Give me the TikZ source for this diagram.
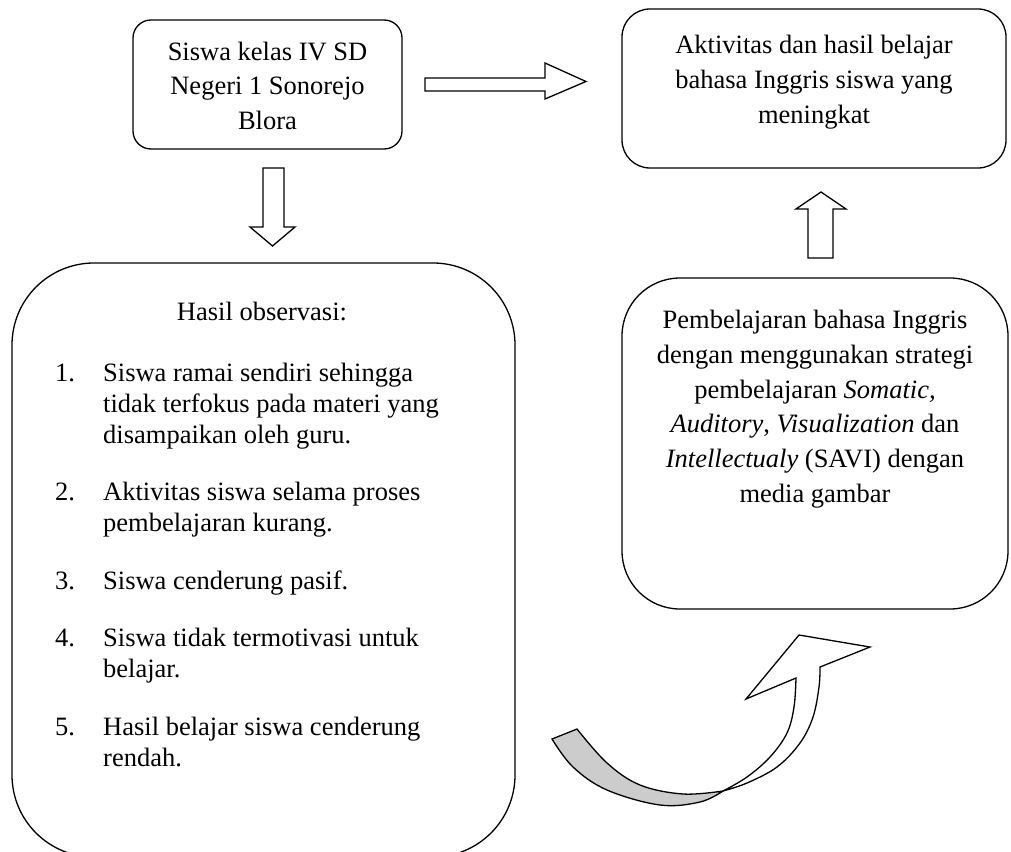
\documentclass[tikz,border=0pt]{standalone}
\usepackage{fontspec}
\setmainfont{Liberation Serif}
\begin{document}
\begin{tikzpicture}[x=1pt,y=-1pt,
  box/.style={draw, line width=1.3pt, inner sep=0pt},
  txt/.style={inner sep=0pt, font=\fontsize{26.5}{34.8}\selectfont},
  ltxt/.style={inner sep=0pt, font=\fontsize{26.5}{31}\selectfont},
  blockarrow/.style={draw, line width=1.3pt, fill=white, line join=miter},
  curvearrow/.style={draw, line width=1.3pt, line join=miter}]
\useasboundingbox (0,0) rectangle (1011,851);

% boxes
\node[box, rounded corners=18pt, minimum width=269pt, minimum height=129pt] (b1) at (267.5,84.5) {};
\node[box, rounded corners=28pt, minimum width=384pt, minimum height=159pt] (b2) at (814,88.5) {};
\node[box, rounded corners=58pt, minimum width=386pt, minimum height=331pt] (b3) at (815,443.5) {};
\node[box, rounded corners=82pt, minimum width=503pt, minimum height=594pt] (b4) at (263.5,560) {};

% texts
\node[txt, anchor=north] (t1) at (267.5,35.5) {\begin{tabular}{@{}c@{}}Siswa kelas IV SD\\ Negeri 1 Sonorejo\\ Blora\end{tabular}};
\node[txt, anchor=north] (t2) at (814,29) {\begin{tabular}{@{}c@{}}Aktivitas dan hasil belajar\\ bahasa Inggris siswa yang\\ meningkat\end{tabular}};
\node[txt, anchor=north] (t3) at (815,304) {\begin{tabular}{@{}c@{}}Pembelajaran bahasa Inggris\\ dengan menggunakan strategi\\ pembelajaran \textit{Somatic,}\\ \textit{Auditory}, \textit{Visualization} dan\\ \textit{Intellectualy} (SAVI) dengan\\ media gambar\end{tabular}};
\node[txt, anchor=base] (t4) at (262,320) {Hasil observasi:};
\node[ltxt, anchor=north west] (t5) at (55,359.3) {\begin{tabular}{@{}l@{}l@{}}
\makebox[48pt][l]{1.} & Siswa ramai sendiri sehingga\\
 & tidak terfokus pada materi yang\\
 & disampaikan oleh guru.\\[26.5pt]
\makebox[48pt][l]{2.} & Aktivitas siswa selama proses\\
 & pembelajaran kurang.\\[26.5pt]
\makebox[48pt][l]{3.} & Siswa cenderung pasif.\\[26.5pt]
\makebox[48pt][l]{4.} & Siswa tidak termotivasi untuk\\
 & belajar.\\[26.5pt]
\makebox[48pt][l]{5.} & Hasil belajar siswa cenderung\\
 & rendah.
\end{tabular}};

% block arrows
\draw[blockarrow] (425,78) -- (545,78) -- (545,63) -- (586,81.5) -- (545,99) -- (545,91) -- (425,91) -- cycle;
\draw[blockarrow] (263,168) -- (284,168) -- (284,227) -- (295,227) -- (272.5,246) -- (250,227) -- (263,227) -- cycle;
\draw[blockarrow] (808,258) -- (833,258) -- (833,209) -- (846,209) -- (821,192) -- (796,209) -- (808,209) -- cycle;

% curved arrow: shaded underside
\filldraw[curvearrow, fill=gray!40]
  plot[smooth, tension=0.6] coordinates {(552,739) (573,767) (607,790) (660,805) (700,802) (723,791)}
  -- plot[smooth, tension=0.6] coordinates {(723,791) (683,794) (640,785) (607,763) (577,729)}
  -- cycle;
% curved arrow: upper surface and head
\filldraw[curvearrow, fill=white]
  plot[smooth, tension=0.6] coordinates {(723,791) (747,783) (777,767) (800,743) (813,717) (819,687) (820,667)}
  -- (870,647) -- (799,635) -- (746,699) -- (796,678)
  -- plot[smooth, tension=0.6] coordinates {(796,678) (794,707) (787,733) (770,757) (747,777) (723,791)}
  -- cycle;
\end{tikzpicture}
\end{document}
